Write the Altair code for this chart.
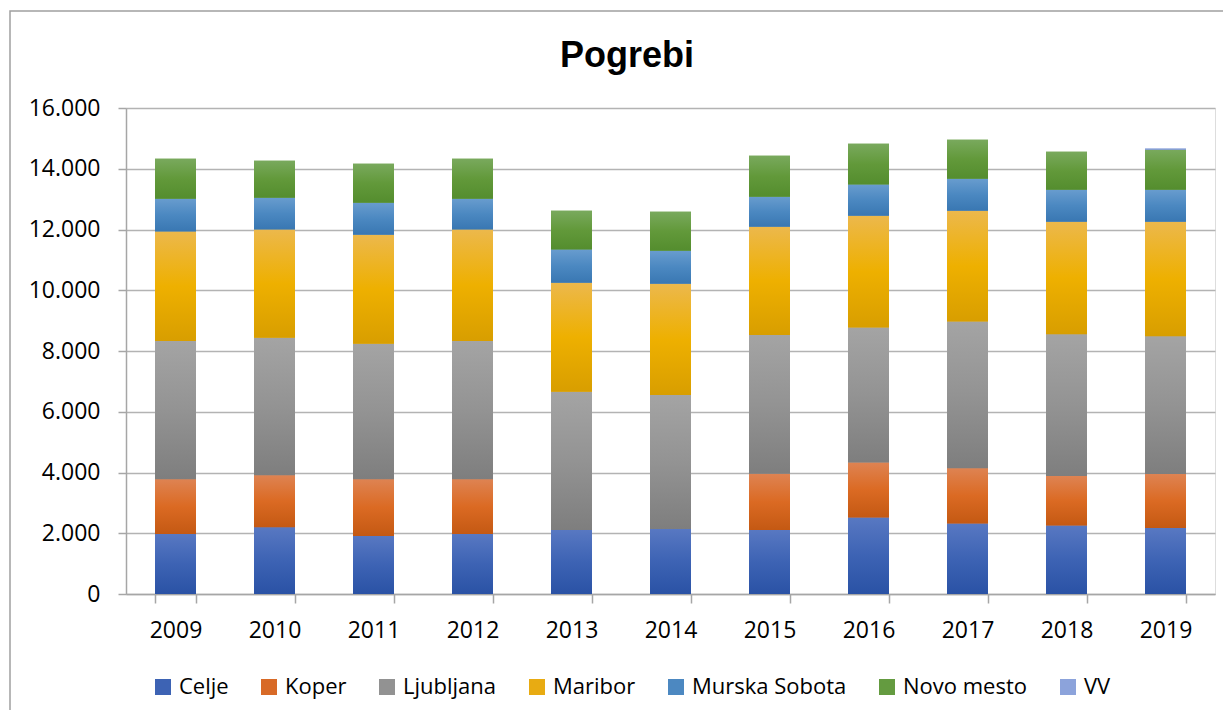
import altair as alt
import pandas as pd

years = ["2009", "2010", "2011", "2012", "2013", "2014", "2015", "2016", "2017", "2018", "2019"]
series = ["Celje", "Koper", "Ljubljana", "Maribor", "Murska Sobota", "Novo mesto", "VV"]

celje = [1978, 2198, 1912, 1978, 2110, 2143, 2110, 2522, 2324, 2258, 2171]
koper = [1802, 1714, 1868, 1802, 0, 0, 1846, 1808, 1820, 1623, 1776]
ljubljana = [4550, 4528, 4462, 4550, 4550, 4407, 4572, 4440, 4824, 4670, 4538]
maribor = [3605, 3561, 3583, 3671, 3583, 3660, 3561, 3684, 3650, 3706, 3772]
murska = [1077, 1044, 1055, 1011, 1099, 1088, 989, 1030, 1053, 1052, 1052]
novo = [1319, 1220, 1286, 1319, 1275, 1286, 1352, 1338, 1283, 1250, 1316]
vv = [0, 0, 0, 0, 0, 0, 0, 0, 0, 0, 43]

y_ticks = [0, 2000, 4000, 6000, 8000, 10000, 12000, 14000, 16000]
title_text = "Pogrebi"

colors = ["#3d63b4", "#d86a27", "#929292", "#e8ab12", "#4c88c1", "#649b40", "#8ca3db"]
grad_top = ["#5878c2", "#de8352", "#a4a4a4", "#ecb84c", "#689cce", "#79a95d", "#a0b3e2"]
grad_mid = ["#3d63b4", "#db6a23", "#939393", "#eeb000", "#4b88c1", "#62993a", "#8ca3db"]
grad_bot = ["#2a52a5", "#c45913", "#7e7e7e", "#d89e00", "#3977b2", "#548d2e", "#7a92d2"]

values = [celje, koper, ljubljana, maribor, murska, novo, vv]
rows = []
for i, (s, vals) in enumerate(zip(series, values)):
    for y, v in zip(years, vals):
        rows.append({"year": y, "series": s, "value": v, "order": i})
df = pd.DataFrame(rows)

FONT = "Open Sans"

base = alt.Chart(df).transform_stack(
    stack="value",
    groupby=["year"],
    as_=["y0", "y1"],
    sort=[alt.SortField("order", order="ascending")],
)

xenc = alt.X(
    "year:N",
    title=None,
    scale=alt.Scale(paddingInner=0.586, paddingOuter=0.293),
    axis=alt.Axis(
        labelAngle=0,
        labelFont=FONT,
        labelFontSize=23,
        labelColor="#000000",
        labelPadding=16,
        tickBand="extent",
        tickSize=9,
        tickColor="#a6a6a6",
        tickWidth=1.5,
        domainColor="#a6a6a6",
        domainWidth=1.5,
        grid=False,
    ),
)
yenc = alt.Y(
    "y1:Q",
    title=None,
    scale=alt.Scale(domain=[0, 16000], nice=False),
    axis=alt.Axis(
        values=y_ticks,
        labelExpr="replace(format(datum.value, ','), ',', '.')",
        labelFont=FONT,
        labelFontSize=23,
        labelColor="#000000",
        labelPadding=18,
        tickSize=8,
        tickColor="#a6a6a6",
        tickWidth=1.5,
        domainColor="#a6a6a6",
        domainWidth=1.5,
        grid=True,
        gridColor="#b3b3b3",
        gridWidth=1.5,
    ),
)

solid = base.mark_bar().encode(
    x=xenc,
    y=yenc,
    y2="y0:Q",
    color=alt.Color(
        "series:N",
        scale=alt.Scale(domain=series, range=colors),
        sort=series,
        legend=alt.Legend(
            title=None,
            orient="none",
            legendX=26,
            legendY=568,
            direction="horizontal",
            symbolType="square",
            symbolSize=256,
            symbolStrokeWidth=0,
            labelFont=FONT,
            labelFontSize=22,
            labelColor="#000000",
            labelOffset=5,
            columnPadding=29,
            padding=0,
        ),
    ),
    order=alt.Order("order:Q"),
)

layers = [solid]
for i, s in enumerate(series):
    grad = {
        "gradient": "linear",
        "x1": 0, "y1": 0, "x2": 0, "y2": 1,
        "stops": [
            {"offset": 0, "color": grad_top[i]},
            {"offset": 0.5, "color": grad_mid[i]},
            {"offset": 1, "color": grad_bot[i]},
        ],
    }
    layers.append(
        base.transform_filter(alt.datum.series == s)
        .transform_filter(alt.datum.value > 0)
        .mark_bar(color=grad)
        .encode(x=alt.X("year:N"), y=alt.Y("y1:Q"), y2="y0:Q")
    )

one = pd.DataFrame({"t": [title_text]})

border = alt.Chart(one).mark_rect(
    fill="transparent", stroke="#a0a0a0", strokeWidth=1.5
).encode(
    x=alt.value(-116), x2=alt.value(1105),
    y=alt.value(-97), y2=alt.value(720),
)

title = alt.Chart(one).mark_text(
    font="Liberation Sans",
    fontSize=36,
    fontWeight="bold",
    color="#000000",
    align="center",
    baseline="alphabetic",
).encode(
    text="t:N",
    x=alt.value(501),
    y=alt.value(-41),
)

chart = alt.layer(border, title, *layers).properties(
    width=1089,
    height=486,
    autosize=alt.AutoSizeParams(type="none"),
    padding={"left": 118, "top": 100, "right": 8, "bottom": 116},
).configure_view(stroke=None).configure(background="#ffffff")

chart.save("out.html", embed_options={"renderer": "svg", "actions": False})
